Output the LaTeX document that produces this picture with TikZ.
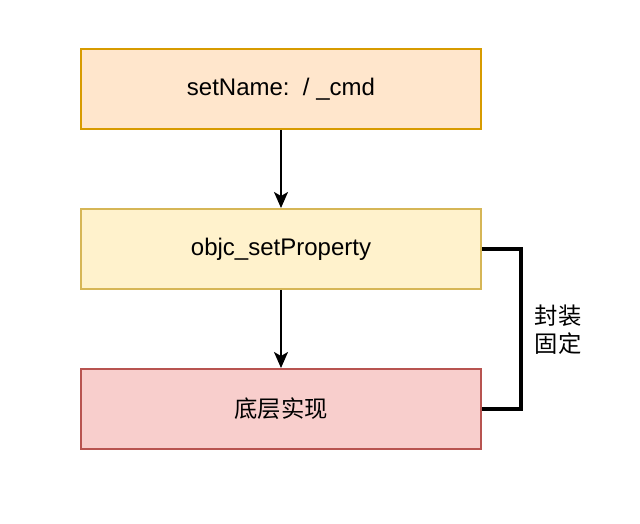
\documentclass[tikz,border=0pt]{standalone}
\usepackage{fontspec}
\setmainfont{Liberation Sans}
\newfontfamily\cjk{Noto Sans CJK SC}
\usetikzlibrary{arrows.meta}

\definecolor{orangefill}{HTML}{FFE6CC}
\definecolor{orangeline}{HTML}{D79B00}
\definecolor{yellowfill}{HTML}{FFF2CC}
\definecolor{yellowline}{HTML}{D6B656}
\definecolor{redfill}{HTML}{F8CECC}
\definecolor{redline}{HTML}{B85450}

\tikzset{
  stagebox/.style={draw, line width=1.5pt, minimum width=300pt, minimum height=60pt,
    inner sep=0pt, font=\fontsize{18}{21}\selectfont},
  flow/.style={line width=1.5pt, -{Stealth[length=12pt,width=10.5pt,inset=3pt]}}
}

\begin{document}
\begin{tikzpicture}[x=0.75pt,y=-0.75pt]
  \useasboundingbox (0,0) rectangle (640,524);
  \node[stagebox, fill=orangefill, draw=orangeline] (cmd) at (281,89) {setName:\ \ / \_cmd};
  \node[stagebox, fill=yellowfill, draw=yellowline] (prop) at (281,249) {objc\_setProperty};
  \node[stagebox, fill=redfill, draw=redline] (impl) at (281,409) {\cjk\fontsize{17.5}{21}\selectfont 底层实现};
  \draw[flow] (cmd) -- (prop);
  \draw[flow] (prop) -- (impl);
  % bracket on the right
  \draw[line width=3pt] (prop.east) -- ++(39,0) coordinate (turn) |- (impl.east);
  \node[font=\cjk\fontsize{17.5}{21}\selectfont, align=center] (fixed) at (558,330) {封装\\固定};
\end{tikzpicture}
\end{document}
